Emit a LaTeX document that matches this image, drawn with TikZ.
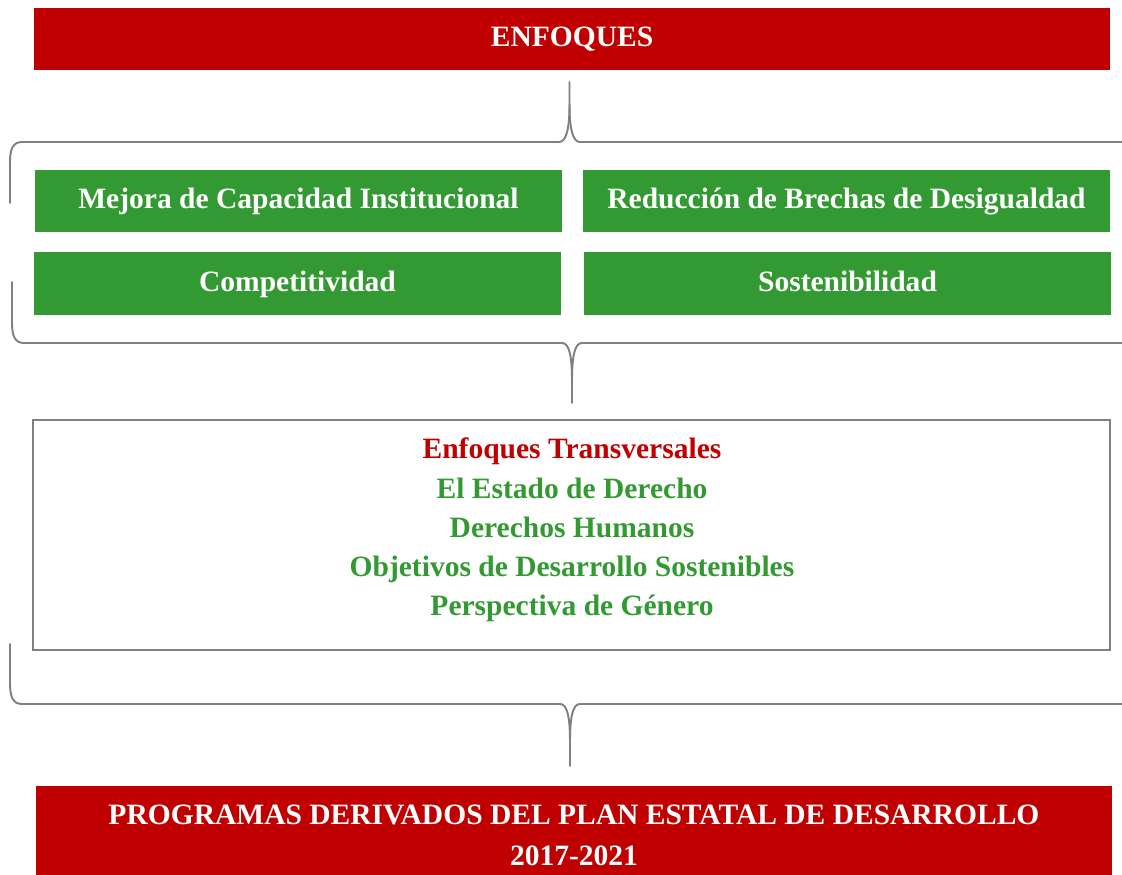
\documentclass[tikz,border=0pt]{standalone}
\usepackage{fontspec}
\setmainfont{Liberation Serif}
\definecolor{enfred}{HTML}{C00000}
\definecolor{enfgreen}{HTML}{339933}
\definecolor{bracegray}{HTML}{808080}

\begin{document}
\begin{tikzpicture}[x=0.02cm,y=-0.02cm,
    font=\fontsize{16.8}{22}\selectfont\bfseries,
    redbox/.style={fill=enfred,text=white,minimum width=21.52cm,inner sep=0pt,align=center},
    greenbox/.style={fill=enfgreen,text=white,minimum width=10.54cm,minimum height=1.25cm,
      inner sep=0pt,text height=1em,text depth=0.1em},
    brace/.style={draw=bracegray,line width=1.1pt,line cap=round}]
  \useasboundingbox (0,0) rectangle (1122,875);
  % title
  \node[redbox,minimum height=1.24cm,text height=1em,text depth=0.1em] (enf) at (572,39) {ENFOQUES};
  % first brace
  \draw[brace] (10,203) -- (10,162) .. controls (10,149) and (13,142) .. (22,142)
    -- (559,142) .. controls (566,142) and (569.5,130) .. (569.5,104) -- (569.5,82);
  \draw[brace] (569.5,104) .. controls (569.5,130) and (573,142) .. (580,142) -- (1122,142);
  \draw[brace] (12,282) -- (12,323) .. controls (12,336) and (15,343) .. (24,343)
    -- (562,343) .. controls (569,343) and (572,355) .. (572,381) -- (572,403);
  \draw[brace] (572,381) .. controls (572,355) and (575,343) .. (582,343) -- (1122,343);
  % four approaches
  \node[greenbox] (mejora) at (298.5,201) {Mejora de Capacidad Institucional};
  \node[greenbox] (brechas) at (846.5,201) {Reducción de Brechas de Desigualdad};
  \node[greenbox] (compet) at (297.5,283.5) {Competitividad};
  \node[greenbox] (sosten) at (847.5,283.5) {Sostenibilidad};
  % transversal approaches
  \node[draw=bracegray,line width=1.1pt,minimum width=21.54cm,minimum height=4.6cm] (trans) at (571.5,535) {};
  \node[align=center,text=enfgreen,font=\fontsize{16.8}{22.3}\selectfont\bfseries] (translist) at (572,530)
    {\textcolor{enfred}{Enfoques Transversales}\\
     El Estado de Derecho\\
     Derechos Humanos\\
     Objetivos de Desarrollo Sostenibles\\
     Perspectiva de Género};
  % second brace
  \draw[brace] (10,644) -- (10,683) .. controls (10,697) and (13,704) .. (22,704)
    -- (560,704) .. controls (567,704) and (570,716) .. (570,742) -- (570,766);
  \draw[brace] (570,742) .. controls (570,716) and (573,704) .. (580,704) -- (1122,704);
  % programs
  \node[redbox,minimum height=1.8cm] (prog) at (574,831) {};
  \node[align=center,text=white,font=\fontsize{16.8}{23.2}\selectfont\bfseries] (progtext) at (574,835)
    {PROGRAMAS DERIVADOS DEL PLAN ESTATAL DE DESARROLLO\\2017-2021};
\end{tikzpicture}
\end{document}
